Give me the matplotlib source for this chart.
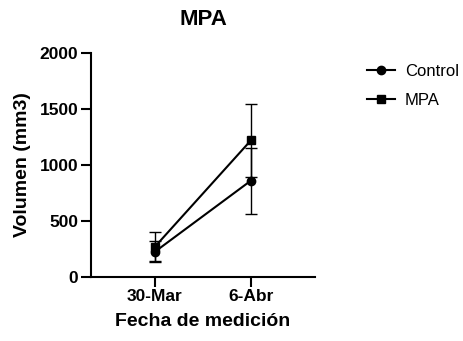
import matplotlib
matplotlib.use("Agg")
from matplotlib import pyplot as plt
from matplotlib.lines import Line2D

plt.rcParams['font.family'] = ['Liberation Sans', 'DejaVu Sans']

fechas = ['30-Mar', '6-Abr']
control = [225, 860]
control_err = [95, 295]
mpa = [270, 1220]
mpa_err = [130, 325]

fig = plt.figure(figsize=(4.64, 3.41), dpi=100)
ax = fig.add_axes([0.196, 0.188, 0.483, 0.657])

x = range(len(fechas))
ax.errorbar(x, control, yerr=control_err, color='black', marker='o', markersize=6,
            linewidth=1.5, elinewidth=1, capsize=4, capthick=1)
ax.errorbar(x, mpa, yerr=mpa_err, color='black', marker='s', markersize=6,
            linewidth=1.5, elinewidth=1, capsize=4, capthick=1)

ax.set_xlim(-0.667, 1.667)
ax.set_ylim(0, 2000)
ax.set_yticks([0, 500, 1000, 1500, 2000])
ax.set_xticks(list(x))
ax.set_xticklabels(fechas)

for side in ['top', 'right']:
    ax.spines[side].set_visible(False)
for side in ['left', 'bottom']:
    ax.spines[side].set_linewidth(1.5)
ax.tick_params(direction='out', length=7, width=1.5, labelsize=12.5, pad=2)
for lbl in ax.get_xticklabels() + ax.get_yticklabels():
    lbl.set_fontweight('bold')

ax.set_title('MPA', fontsize=16, fontweight='bold', pad=20)
ax.set_ylabel('Volumen (mm3)', fontsize=14, fontweight='bold', labelpad=6)
ax.set_xlabel('Fecha de medición', fontsize=14, fontweight='bold', labelpad=6)

handles = [Line2D([], [], color='black', marker='o', markersize=6, linewidth=1.5),
           Line2D([], [], color='black', marker='s', markersize=6, linewidth=1.5)]
ax.legend(handles, ['Control', 'MPA'], loc='upper left', bbox_to_anchor=(1.2, 0.98),
          frameon=False, fontsize=12, handlelength=1.7, handletextpad=0.6,
          labelspacing=0.85, borderaxespad=0)

fig.savefig('out.png', dpi=100)
